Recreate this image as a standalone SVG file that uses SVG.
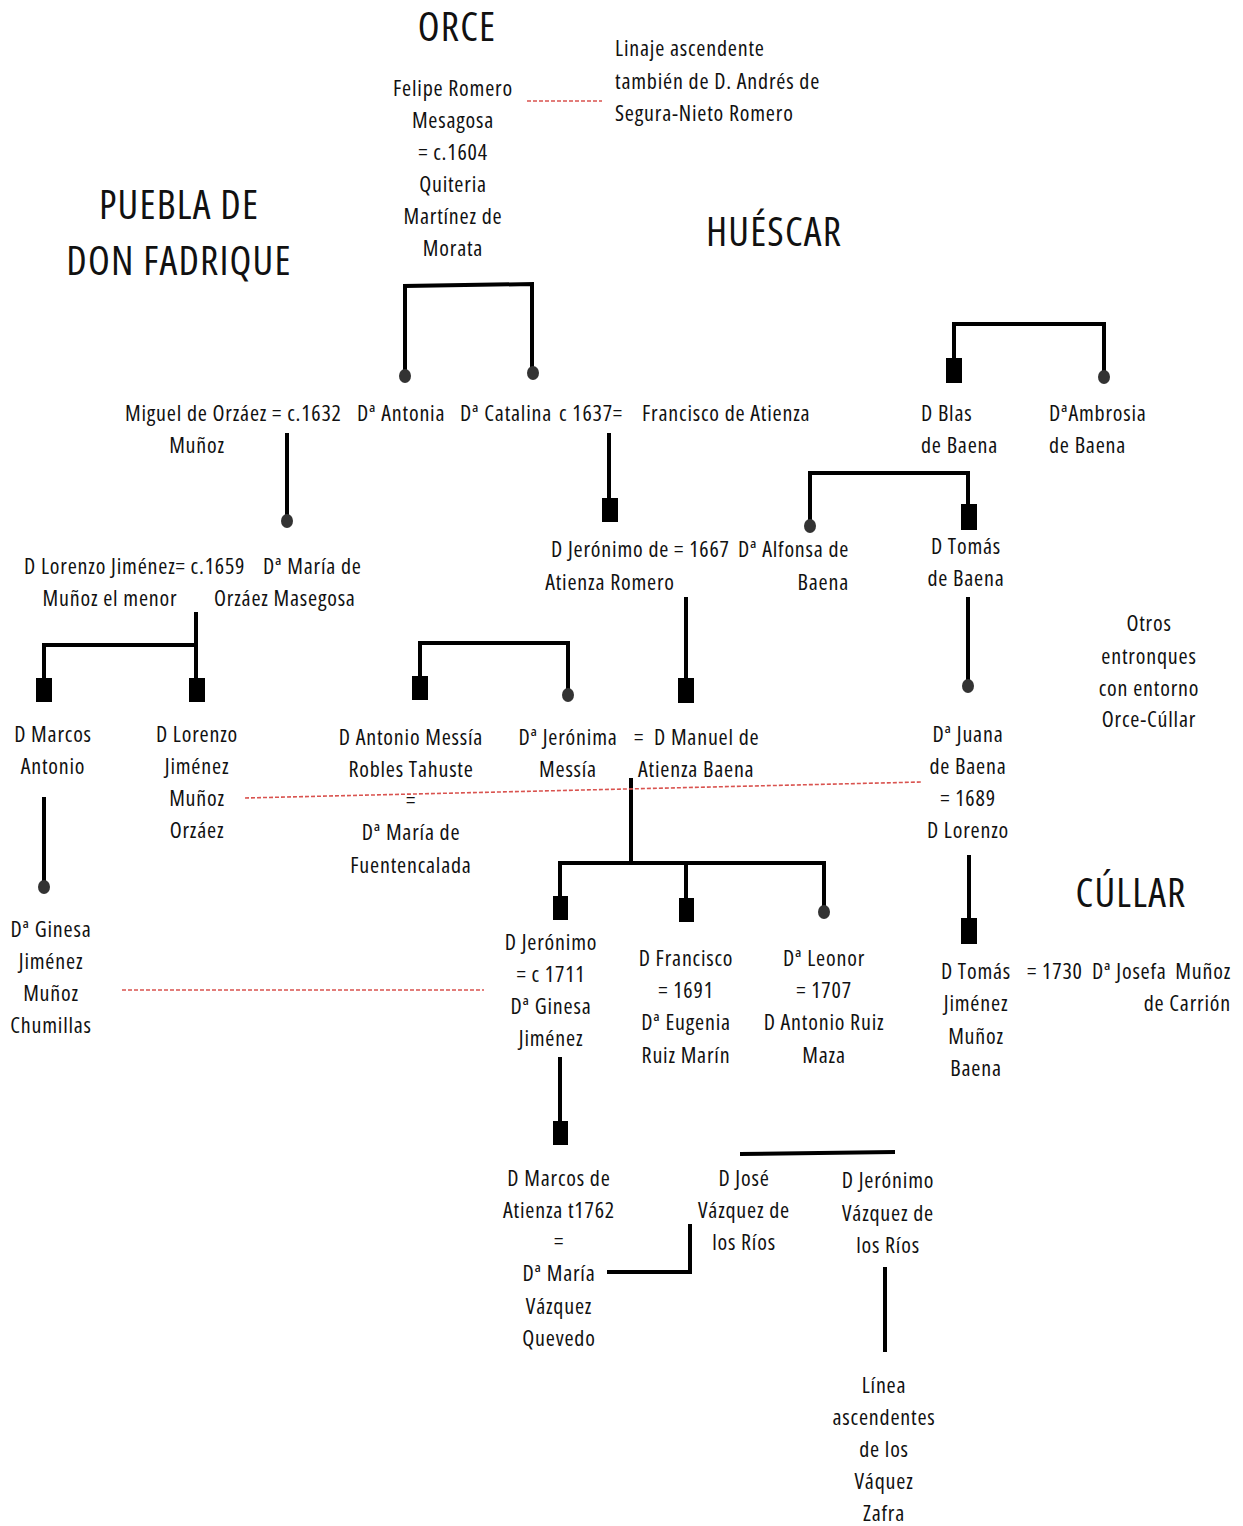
<svg xmlns="http://www.w3.org/2000/svg" width="1243" height="1526" viewBox="0 0 1243 1526">
<style>
text{font-family:"Open Sans","Noto Sans",sans-serif;font-stretch:condensed;font-size:22px;letter-spacing:0.8px;fill:#111}
.t{font-size:40px;letter-spacing:1.2px}
.c{text-anchor:middle}
.r{text-anchor:end}
.ln{stroke:#000;stroke-width:4;fill:none}
.red{stroke:#d9534f;stroke-width:1.6;stroke-dasharray:4 2;fill:none}
.sq{fill:#000}
.dot{fill:#333}
</style>
<rect width="1243" height="1526" fill="#fff"/>
<g id="titles">
<text class="t c" x="457" y="41">ORCE</text>
<text class="t c" x="179" y="219">PUEBLA DE</text>
<text class="t c" x="179" y="275">DON FADRIQUE</text>
<text class="t c" x="774" y="246">HUÉSCAR</text>
<text class="t c" x="1131" y="907">CÚLLAR</text>
</g>
<g id="connectors">
<path class="ln" d="M405 372V286L532 284V372"/>
<path class="ln" d="M954 360V324H1104V372"/>
<path class="ln" d="M810 520V473H968V506"/>
<path class="ln" d="M287 433V516"/>
<path class="ln" d="M609 433V500"/>
<path class="ln" d="M196 612V680M44 680V645H196"/>
<path class="ln" d="M686 597V680"/>
<path class="ln" d="M968 597V680"/>
<path class="ln" d="M420 678V643H568V690"/>
<path class="ln" d="M44 797V882"/>
<path class="ln" d="M631 778V862M560 898V863H824V906M686 863V900"/>
<path class="ln" d="M969 855V920"/>
<path class="ln" d="M560 1057V1122"/>
<path class="ln" d="M607 1272H690V1224"/>
<path class="ln" d="M740 1154L895 1152"/>
<path class="ln" d="M885 1267V1352"/>
<path class="red" d="M527 101H602"/>
<path class="red" d="M245 798L922 782"/>
<path class="red" d="M122 990H484"/>
</g>
<g id="markers">
<ellipse class="dot" cx="405" cy="376" rx="6" ry="7"/>
<ellipse class="dot" cx="533" cy="373" rx="6" ry="7"/>
<ellipse class="dot" cx="287" cy="521" rx="6" ry="7"/>
<rect class="sq" x="602" y="498" width="16" height="24"/>
<rect class="sq" x="946" y="358" width="16" height="25"/>
<ellipse class="dot" cx="1104" cy="377" rx="6" ry="7"/>
<ellipse class="dot" cx="810" cy="526" rx="6" ry="7"/>
<rect class="sq" x="961" y="504" width="16" height="26"/>
<rect class="sq" x="36" y="678" width="16" height="24"/>
<rect class="sq" x="189" y="678" width="16" height="24"/>
<rect class="sq" x="412" y="676" width="16" height="24"/>
<ellipse class="dot" cx="568" cy="695" rx="6" ry="7"/>
<rect class="sq" x="678" y="678" width="16" height="25"/>
<ellipse class="dot" cx="968" cy="686" rx="6" ry="7"/>
<ellipse class="dot" cx="44" cy="887" rx="6" ry="7"/>
<rect class="sq" x="553" y="896" width="15" height="24"/>
<rect class="sq" x="679" y="898" width="15" height="24"/>
<ellipse class="dot" cx="824" cy="912" rx="6" ry="7"/>
<rect class="sq" x="961" y="918" width="16" height="26"/>
<rect class="sq" x="553" y="1121" width="15" height="24"/>
</g>
<g id="n-felipe"><text class="c" x="453" y="96"><tspan x="453">Felipe Romero</tspan><tspan x="453" dy="32">Mesagosa</tspan><tspan x="453" dy="32">= c.1604</tspan><tspan x="453" dy="32">Quiteria</tspan><tspan x="453" dy="32">Martínez de</tspan><tspan x="453" dy="32">Morata</tspan></text></g>
<g id="n-linaje"><text x="615" y="56"><tspan x="615">Linaje ascendente</tspan><tspan x="615" dy="33">también de D. Andrés de</tspan><tspan x="615" dy="32">Segura-Nieto Romero</tspan></text></g>
<g id="n-miguel"><text x="125" y="421">Miguel de Orzáez = c.1632</text><text class="c" x="197" y="453">Muñoz</text></g>
<g id="n-antonia"><text x="357" y="421">Dª Antonia</text></g>
<g id="n-catalina"><text x="460" y="421">Dª Catalina</text><text x="559" y="421">c 1637=</text></g>
<g id="n-francisco"><text x="642" y="421">Francisco de Atienza</text></g>
<g id="n-blas"><text x="921" y="421"><tspan x="921">D Blas</tspan><tspan x="921" dy="32">de Baena</tspan></text></g>
<g id="n-ambrosia"><text x="1049" y="421"><tspan x="1049">DªAmbrosia</tspan><tspan x="1049" dy="32">de Baena</tspan></text></g>
<g id="n-lorenzo1"><text x="24" y="574">D Lorenzo Jiménez= c.1659</text><text x="263" y="574">Dª María de</text><text class="c" x="110" y="606">Muñoz el menor</text><text x="214" y="606">Orzáez Masegosa</text></g>
<g id="n-jeronimo1"><text x="551" y="557">D Jerónimo de = 1667</text><text class="c" x="610" y="590">Atienza Romero</text></g>
<g id="n-alfonsa"><text x="738" y="557">Dª Alfonsa de</text><text class="r" x="849" y="590">Baena</text></g>
<g id="n-tomas1"><text class="c" x="966" y="554"><tspan x="966">D Tomás</tspan><tspan x="966" dy="32">de Baena</tspan></text></g>
<g id="n-otros"><text class="c" x="1149" y="631"><tspan x="1149">Otros</tspan><tspan x="1149" dy="33">entronques</tspan><tspan x="1149" dy="32">con entorno</tspan><tspan x="1149" dy="31">Orce-Cúllar</tspan></text></g>
<g id="n-marcos"><text class="c" x="53" y="742"><tspan x="53">D Marcos</tspan><tspan x="53" dy="32">Antonio</tspan></text></g>
<g id="n-lorenzo2"><text class="c" x="197" y="742"><tspan x="197">D Lorenzo</tspan><tspan x="197" dy="32">Jiménez</tspan><tspan x="197" dy="32">Muñoz</tspan><tspan x="197" dy="32">Orzáez</tspan></text></g>
<g id="n-antonio"><text class="c" x="411" y="745"><tspan x="411">D Antonio Messía</tspan><tspan x="411" dy="32">Robles Tahuste</tspan><tspan x="411" dy="31">=</tspan><tspan x="411" dy="32">Dª María de</tspan><tspan x="411" dy="33">Fuentencalada</tspan></text></g>
<g id="n-jeronima"><text class="c" x="568" y="745"><tspan x="568">Dª Jerónima</tspan><tspan x="568" dy="32">Messía</tspan></text></g>
<g id="n-manuel"><text x="634" y="745">=</text><text x="654" y="745">D Manuel de</text><text x="638" y="777">Atienza Baena</text></g>
<g id="n-juana"><text class="c" x="968" y="742"><tspan x="968">Dª Juana</tspan><tspan x="968" dy="32">de Baena</tspan><tspan x="968" dy="32">= 1689</tspan><tspan x="968" dy="32">D Lorenzo</tspan></text></g>
<g id="n-ginesa"><text class="c" x="51" y="937"><tspan x="51">Dª Ginesa</tspan><tspan x="51" dy="32">Jiménez</tspan><tspan x="51" dy="32">Muñoz</tspan><tspan x="51" dy="32">Chumillas</tspan></text></g>
<g id="n-jeronimo2"><text class="c" x="551" y="950"><tspan x="551">D Jerónimo</tspan><tspan x="551" dy="32">= c 1711</tspan><tspan x="551" dy="32">Dª Ginesa</tspan><tspan x="551" dy="32">Jiménez</tspan></text></g>
<g id="n-francisco2"><text class="c" x="686" y="966"><tspan x="686">D Francisco</tspan><tspan x="686" dy="32">= 1691</tspan><tspan x="686" dy="32">Dª Eugenia</tspan><tspan x="686" dy="33">Ruiz Marín</tspan></text></g>
<g id="n-leonor"><text class="c" x="824" y="966"><tspan x="824">Dª Leonor</tspan><tspan x="824" dy="32">= 1707</tspan><tspan x="824" dy="32">D Antonio Ruiz</tspan><tspan x="824" dy="33">Maza</tspan></text></g>
<g id="n-tomas2"><text class="c" x="976" y="979"><tspan x="976">D Tomás</tspan><tspan x="976" dy="32">Jiménez</tspan><tspan x="976" dy="33">Muñoz</tspan><tspan x="976" dy="32">Baena</tspan></text></g>
<g id="n-josefa"><text x="1027" y="979">= 1730</text><text x="1092" y="979">Dª Josefa</text><text class="r" x="1231" y="979">Muñoz</text><text class="r" x="1231" y="1011">de Carrión</text></g>
<g id="n-marcos2"><text class="c" x="559" y="1186"><tspan x="559">D Marcos de</tspan><tspan x="559" dy="32">Atienza t1762</tspan><tspan x="559" dy="31">=</tspan><tspan x="559" dy="32">Dª María</tspan><tspan x="559" dy="33">Vázquez</tspan><tspan x="559" dy="32">Quevedo</tspan></text></g>
<g id="n-jose"><text class="c" x="744" y="1186"><tspan x="744">D José</tspan><tspan x="744" dy="32">Vázquez de</tspan><tspan x="744" dy="32">los Ríos</tspan></text></g>
<g id="n-jeronimo3"><text class="c" x="888" y="1188"><tspan x="888">D Jerónimo</tspan><tspan x="888" dy="33">Vázquez de</tspan><tspan x="888" dy="32">los Ríos</tspan></text></g>
<g id="n-linea"><text class="c" x="884" y="1393"><tspan x="884">Línea</tspan><tspan x="884" dy="32">ascendentes</tspan><tspan x="884" dy="32">de los</tspan><tspan x="884" dy="32">Váquez</tspan><tspan x="884" dy="32">Zafra</tspan></text></g>
</svg>
